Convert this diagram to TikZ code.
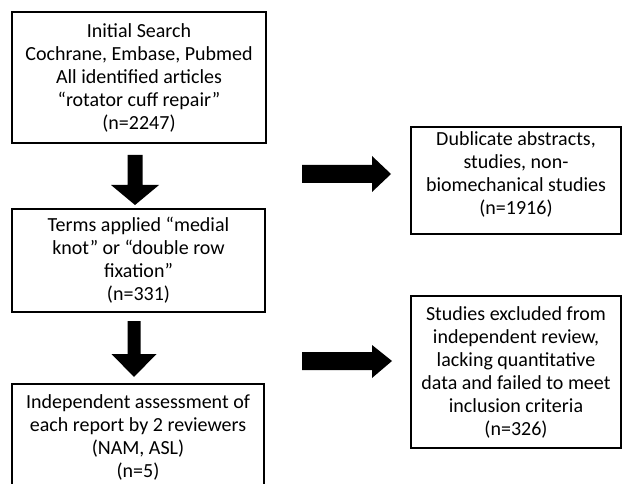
\documentclass[tikz,border=0pt]{standalone}
\usepackage{fontspec}
\setmainfont{Carlito}
\begin{document}
\begin{tikzpicture}[x=1pt,y=-1pt,
  box/.style={draw=black, line width=1.3pt, align=center, inner sep=0pt,
    font=\fontsize{20}{23}\selectfont},
  bigarrow/.style={fill=black, draw=none}]
\useasboundingbox (0,0) rectangle (622,484);
\fill[white] (0,0) rectangle (622,484);

\node[box, minimum width=254, minimum height=131] (search) at (139,77.5)
  {Initial Search\\Cochrane, Embase, Pubmed\\All identified articles\\“rotator cuff repair”\\(n=2247)};
\node[box, minimum width=253, minimum height=103] (terms) at (138.5,260.5)
  {Terms applied “medial\\knot” or “double row\\fixation”\\(n=331)};
\node[box, minimum width=252, minimum height=106] (assess) at (138,437)
  {Independent assessment of\\each report by 2 reviewers\\(NAM, ASL)\\(n=5)};
\node[box, minimum width=210, minimum height=107] (dup) at (516,180.5)
  {\raisebox{5pt}[\height][\depth]{\begin{tabular}{@{}c@{}}Dublicate abstracts,\\studies, non-\\biomechanical studies\\(n=1916)\end{tabular}}};
\node[box, minimum width=210, minimum height=152] (excl) at (516,372)
  {Studies excluded from\\independent review,\\lacking quantitative\\data and failed to meet\\inclusion criteria\\(n=326)};

% down arrows
\fill[bigarrow] (127.5,155) -- (142.5,155) -- (142.5,185) -- (159,185) -- (135,205) -- (111,185) -- (127.5,185) -- cycle;
\fill[bigarrow] (127.5,321) -- (140.5,321) -- (140.5,354) -- (156.5,354) -- (134,377) -- (111.5,354) -- (127.5,354) -- cycle;
% right arrows
\fill[bigarrow] (302,165) -- (372,165) -- (372,156) -- (391,174) -- (372,192) -- (372,183) -- (302,183) -- cycle;
\fill[bigarrow] (302,352) -- (372,352) -- (372,345) -- (392,361) -- (372,378) -- (372,370) -- (302,370) -- cycle;
\end{tikzpicture}
\end{document}
